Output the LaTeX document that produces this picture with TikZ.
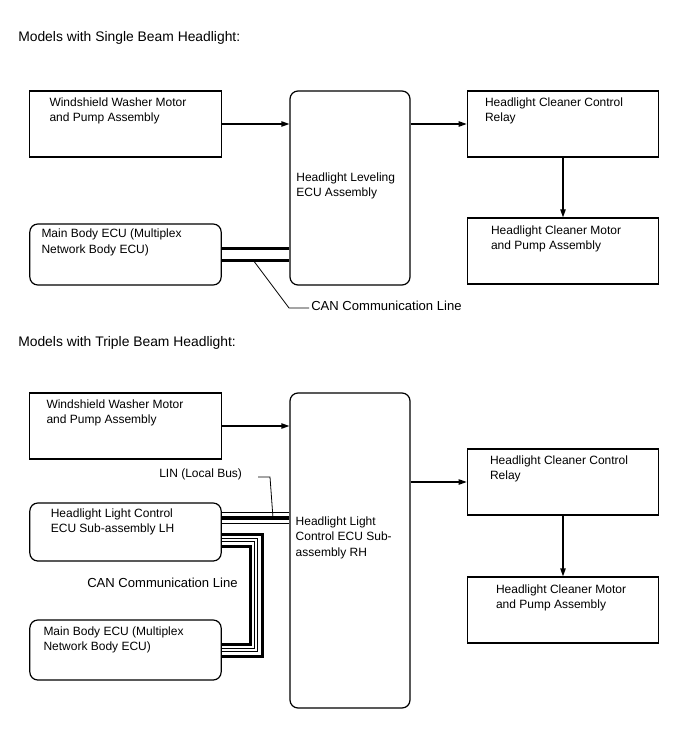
\documentclass[tikz,border=0pt]{standalone}
\usepackage{fontspec}
\setmainfont{Liberation Sans}
\usetikzlibrary{arrows.meta,positioning}

\begin{document}
\begin{tikzpicture}[
      x=0.75pt, y=-0.75pt,
      font=\fontsize{9}{11.6}\selectfont,
      blk/.style={draw, line width=0.9pt, minimum width=143.5pt,
                  minimum height=49.5pt, inner sep=0pt},
      rblk/.style={blk, rounded corners=6pt},
      ecu/.style={draw, line width=0.9pt, rounded corners=6pt,
                  minimum width=90pt, inner sep=0pt},
      txt/.style={align=left, inner sep=0pt, anchor=north west},
      ttl/.style={anchor=base west, inner sep=0pt, font=\fontsize{10.4}{12}\selectfont},
      lbl/.style={anchor=west, inner sep=0pt},
      a/.style={-{Triangle[length=6pt,width=4pt]}, line width=0.9pt},
      can/.style={line width=0.5pt, double=white, double distance=1.6pt,
                  preaction={draw, line width=2.25pt, double=white, double distance=6.75pt}},
      lin/.style={line width=2.4pt,
                  preaction={draw, line width=0.5pt, double=white, double distance=7.5pt}},
      lead/.style={line width=0.6pt},
    ]
    \useasboundingbox (0,0) rectangle (688,755);

    % single beam
    \node[ttl] (t1) at (18,42) {Models with Single Beam Headlight:};
    \node[blk, label={[txt, xshift=15pt, yshift=-5.25pt]north west:{Windshield Washer Motor\\and Pump Assembly}}]
          (ww1) at (125.5,124) {};
    \node[rblk, minimum height=45.75pt, label={[txt, xshift=9pt, yshift=-4pt]north west:{Main Body ECU (Multiplex\\Network Body ECU)}}]
          (mb1) at (125.5,254.5) {};
    \node[ecu, minimum height=145.5pt, label={[txt, xshift=5pt, yshift=-61.5pt]north west:{Headlight Leveling\\ECU Assembly}}]
          (hle) at (350,188) {};
    \node[blk, label={[txt, xshift=13.5pt, yshift=-5.25pt]north west:{Headlight Cleaner Control\\Relay}}]
          (rel1) at (563,124) {};
    \node[blk, label={[txt, xshift=18pt, yshift=-6pt]north west:{Headlight Cleaner Motor\\and Pump Assembly}}]
          (mot1) at (563,251) {};

    \draw[a] (ww1.east) -- (ww1.east -| hle.west);
    \draw[a] (rel1.west -| hle.east) -- (rel1.west);
    \draw[a] (rel1) -- (mot1);
    \draw[can] (mb1.east) -- (mb1.east -| hle.west);

    \coordinate (canpt1) at (253,260);
    \coordinate (canknee1) at (289,308);
    \node[lbl, font=\fontsize{9.8}{12}\selectfont] (canlbl1) at (311,306) {CAN Communication Line};
    \draw[lead] (canpt1) -- (canknee1) -- ([xshift=-1.5pt]canlbl1.west |- canknee1);

    % triple beam
    \node[ttl] (t2) at (18,346) {Models with Triple Beam Headlight:};
    \node[blk, label={[txt, xshift=12.75pt, yshift=-5.25pt]north west:{Windshield Washer Motor\\and Pump Assembly}}]
          (ww2) at (125.5,426) {};
    \node[rblk, minimum height=43.5pt, label={[txt, xshift=16pt, yshift=-4.5pt]north west:{Headlight Light Control\\ECU Sub-assembly LH}}]
          (lh) at (125.5,532) {};
    \node[rblk, minimum height=45pt, label={[txt, xshift=10.5pt, yshift=-5.25pt]north west:{Main Body ECU (Multiplex\\Network Body ECU)}}]
          (mb2) at (125.5,650) {};
    \node[ecu, minimum height=236.25pt, label={[txt, xshift=4.5pt, yshift=-93pt]north west:{Headlight Light\\Control ECU Sub-\\assembly RH}}]
          (hlc) at (350,550.5) {};
    \node[blk, label={[txt, xshift=17.25pt, yshift=-5.25pt]north west:{Headlight Cleaner Control\\Relay}}]
          (rel2) at (563,482) {};
    \node[blk, label={[txt, xshift=21.75pt, yshift=-6pt]north west:{Headlight Cleaner Motor\\and Pump Assembly}}]
          (mot2) at (563,610) {};

    \draw[a] (ww2.east) -- (ww2.east -| hlc.west);
    \draw[a] (rel2.west -| hlc.east) -- (rel2.west);
    \draw[a] (rel2) -- (mot2);

    \draw[lin] ([yshift=10.5pt]lh.east) -- ([yshift=10.5pt]lh.east -| hlc.west);
    \node[lbl] (linlbl) at (159,474) {LIN (Local Bus)};
    \coordinate (linend) at (258,477);
    \coordinate (linknee) at (270,477);
    \coordinate (linpt) at (273,518);
    \draw[lead] (linend) -- (linknee) -- (linpt);

    \coordinate (canx) at (256,0);
    \draw[can] ([yshift=-6pt]lh.east) -| (canx |- mb2.east) -- (mb2.east);
    \node[lbl, font=\fontsize{9.8}{12}\selectfont] (canlbl2) at (87,583) {CAN Communication Line};
  \end{tikzpicture}
\end{document}
